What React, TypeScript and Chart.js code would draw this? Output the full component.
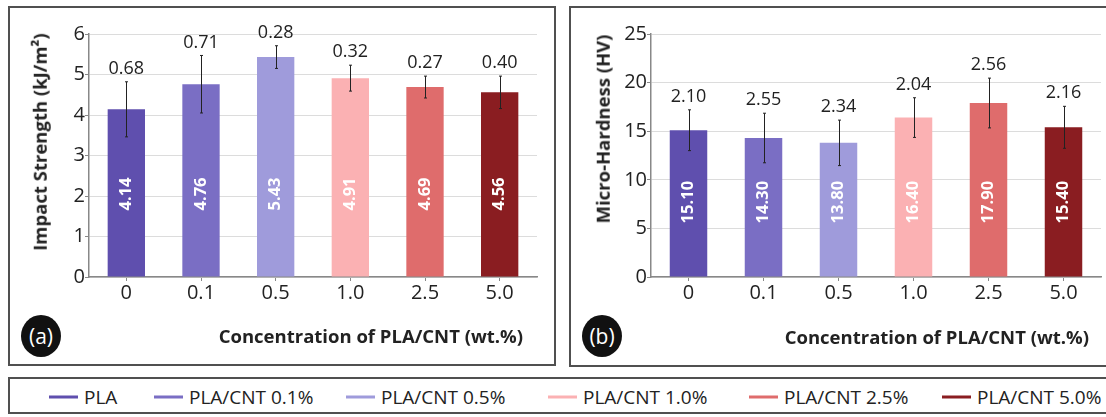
import React, { useEffect, useRef } from 'react';
import { Chart, registerables } from 'chart.js';

Chart.register(...registerables);

const categories = ['0', '0.1', '0.5', '1.0', '2.5', '5.0'];
const seriesNames = ['PLA', 'PLA/CNT 0.1%', 'PLA/CNT 0.5%', 'PLA/CNT 1.0%', 'PLA/CNT 2.5%', 'PLA/CNT 5.0%'];
const seriesColors = ['#5f4fae', '#7a6ec4', '#9f9bdb', '#fbb1b3', '#df6c6c', '#8a1d21'];
const impactValues = [4.14, 4.76, 5.43, 4.91, 4.69, 4.56];
const impactErrors = [0.68, 0.71, 0.28, 0.32, 0.27, 0.4];
const hardnessValues = [15.1, 14.3, 13.8, 16.4, 17.9, 15.4];
const hardnessErrors = [2.1, 2.55, 2.34, 2.04, 2.56, 2.16];
const impactAxis = { min: 0, max: 6, step: 1 };
const hardnessAxis = { min: 0, max: 25, step: 5 };

const FONT = "'Open Sans', sans-serif";
const TEXT = '#222';
const AXIS = '#888';

type Area = { yWidth: number; padRight: number; top: number; xHeight: number; anchor: number };

function makeChart(
  canvas: HTMLCanvasElement,
  values: number[],
  errors: number[],
  axis: { min: number; max: number; step: number },
  area: Area
) {
  const errPlugin = {
    id: 'errBars',
    afterDatasetsDraw(chart: any) {
      const ctx = chart.ctx as CanvasRenderingContext2D;
      const ys = chart.scales.y;
      const meta = chart.getDatasetMeta(0);
      meta.data.forEach((el: any, i: number) => {
        const v = values[i];
        const e = errors[i];
        const x = Math.round(el.x) + 0.5;
        const yt = ys.getPixelForValue(v + e);
        const yb = ys.getPixelForValue(v - e);
        ctx.save();
        ctx.strokeStyle = '#222';
        ctx.lineWidth = 1;
        ctx.beginPath();
        ctx.moveTo(x, yt);
        ctx.lineTo(x, yb);
        ctx.moveTo(x - 1.5, yt);
        ctx.lineTo(x + 1.5, yt);
        ctx.moveTo(x - 1.5, yb);
        ctx.lineTo(x + 1.5, yb);
        ctx.stroke();
        ctx.fillStyle = TEXT;
        ctx.font = `18px ${FONT}`;
        ctx.textAlign = 'center';
        ctx.textBaseline = 'middle';
        ctx.fillText(e.toFixed(2), el.x, yt - 13);
        ctx.translate(el.x, ys.getPixelForValue(area.anchor));
        ctx.rotate(-Math.PI / 2);
        ctx.fillStyle = '#fff';
        ctx.font = `bold 16.5px ${FONT}`;
        ctx.fillText(v.toFixed(2), 0, 0);
        ctx.restore();
      });
    },
  };

  return new Chart(canvas, {
    type: 'bar',
    data: {
      labels: categories,
      datasets: [
        {
          data: values,
          backgroundColor: seriesColors,
          borderWidth: 0,
          barPercentage: 1,
          categoryPercentage: 0.5,
        },
      ],
    },
    options: {
      animation: false,
      responsive: false,
      maintainAspectRatio: false,
      layout: { padding: { left: 0, right: area.padRight, top: area.top, bottom: 0 } },
      plugins: { legend: { display: false }, tooltip: { enabled: false } },
      scales: {
        x: {
          grid: { drawOnChartArea: false, offset: false, tickLength: 4, tickColor: AXIS },
          border: { color: AXIS, width: 1.5 },
          ticks: { color: TEXT, font: { family: FONT, size: 20 }, padding: 0 },
          afterFit: (s: any) => {
            s.height = area.xHeight;
          },
        },
        y: {
          min: axis.min,
          max: axis.max,
          ticks: { stepSize: axis.step, color: TEXT, font: { family: FONT, size: 20 }, padding: 0 },
          grid: { color: '#dcdcdc', tickLength: 4, tickColor: AXIS },
          border: { color: AXIS, width: 1.5 },
          afterFit: (s: any) => {
            s.width = area.yWidth;
          },
        },
      },
    },
    plugins: [errPlugin],
  } as any);
}

const legendLefts = [49, 154, 346, 548, 749, 942];

export default function App() {
  const leftRef = useRef<HTMLCanvasElement>(null);
  const rightRef = useRef<HTMLCanvasElement>(null);

  useEffect(() => {
    const c1 = makeChart(leftRef.current!, impactValues, impactErrors, impactAxis, {
      yWidth: 89,
      padRight: 23,
      top: 34,
      xHeight: 93,
      anchor: 2.05,
    });
    const c2 = makeChart(rightRef.current!, hardnessValues, hardnessErrors, hardnessAxis, {
      yWidth: 91,
      padRight: 5,
      top: 34,
      xHeight: 93,
      anchor: 7.7,
    });
    return () => {
      c1.destroy();
      c2.destroy();
    };
  }, []);

  const border = '2px solid #505050';
  const yTitle = (cx: number, cy: number, text: React.ReactNode) => (
    <div
      style={{
        position: 'absolute',
        left: cx,
        top: cy,
        transform: 'translate(-50%, -50%) rotate(-90deg)',
        whiteSpace: 'nowrap',
        fontWeight: 700,
        fontSize: 18.5,
        lineHeight: 1,
        color: TEXT,
      }}
    >
      {text}
    </div>
  );
  const xTitle = (right: number, cy: number) => (
    <div
      style={{
        position: 'absolute',
        right: 1106 - right,
        top: cy,
        transform: 'translateY(-50%)',
        whiteSpace: 'nowrap',
        fontWeight: 700,
        fontSize: 18.5,
        lineHeight: 1,
        color: TEXT,
      }}
    >
      Concentration of PLA/CNT (wt.%)
    </div>
  );
  const badge = (cx: number, cy: number, text: string) => (
    <div
      style={{
        position: 'absolute',
        left: cx - 20,
        top: cy - 21,
        width: 40,
        height: 42,
        borderRadius: '50%',
        background: '#111',
        color: '#fff',
        fontSize: 21,
        lineHeight: '42px',
        textAlign: 'center',
      }}
    >
      {text}
    </div>
  );

  return (
    <div
      style={{
        position: 'fixed',
        left: 0,
        top: 0,
        width: 1106,
        height: 417,
        background: '#fff',
        overflow: 'hidden',
        fontFamily: FONT,
      }}
    >
      <div style={{ position: 'absolute', left: 8, top: 6, width: 548, height: 360, border, boxSizing: 'border-box' }} />
      <div style={{ position: 'absolute', left: 569, top: 6, width: 545, height: 361, border, boxSizing: 'border-box' }} />
      <div style={{ position: 'absolute', left: 8, top: 377, width: 1106, height: 37, border, boxSizing: 'border-box' }} />
      <canvas
        ref={leftRef}
        width={560}
        height={370}
        style={{ position: 'absolute', left: 0, top: 0, width: 560, height: 370 }}
      />
      <canvas
        ref={rightRef}
        width={546}
        height={370}
        style={{ position: 'absolute', left: 560, top: 0, width: 546, height: 370 }}
      />
      {yTitle(40, 142, <span>Impact Strength (kJ/m²)</span>)}
      {yTitle(603, 129, <span>Micro-Hardness (HV)</span>)}
      {xTitle(523, 336)}
      {xTitle(1089, 337)}
      {badge(41, 336, '(a)')}
      {badge(602, 336, '(b)')}
      {seriesNames.map((name, i) => (
        <div
          key={name}
          style={{
            position: 'absolute',
            left: legendLefts[i],
            top: 397,
            transform: 'translateY(-50%)',
            display: 'flex',
            alignItems: 'center',
            whiteSpace: 'nowrap',
            fontSize: 19,
            lineHeight: 1,
            color: TEXT,
          }}
        >
          <span style={{ display: 'inline-block', width: 29, height: 3, background: seriesColors[i], marginRight: 6 }} />
          <span>{name}</span>
        </div>
      ))}
    </div>
  );
}
